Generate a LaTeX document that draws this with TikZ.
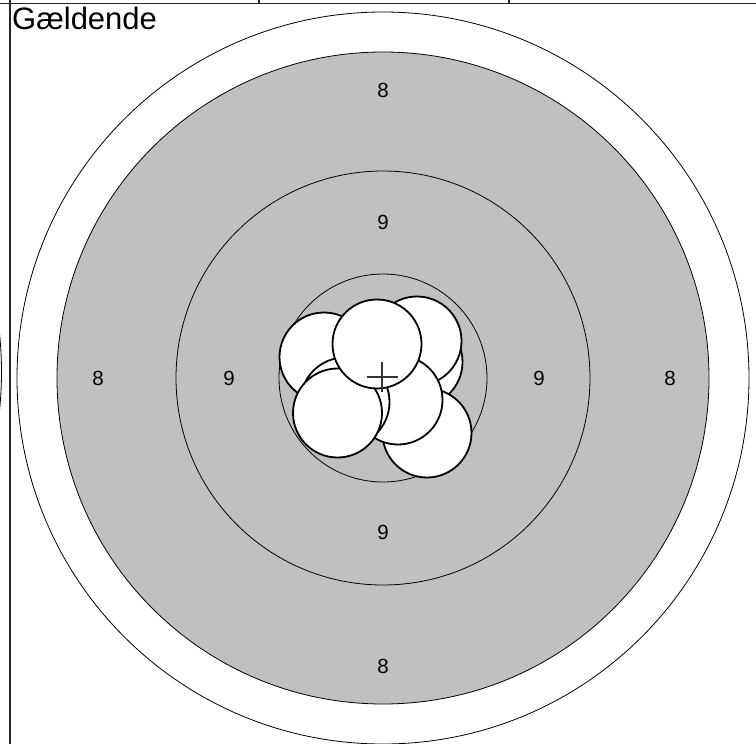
\documentclass[tikz,border=0pt]{standalone}
\usepackage{fontspec}
\setmainfont{Liberation Sans}
\usetikzlibrary{positioning}
\definecolor{ringgray}{RGB}{192,192,192}
\tikzset{
  ring/.style={draw=black,line width=0.8pt},
  frame/.style={draw=black!85,line width=1.6pt},
  shot/.style={circle,draw=black,fill=white,line width=1.8pt,minimum size=89pt,inner sep=0pt},
  score/.style={font=\fontsize{20.5}{20.5}\selectfont,inner sep=0pt},
}

\begin{document}
\begin{tikzpicture}[x=1pt,y=-1pt]
  \clip (0,0) rectangle (756,744);
  \coordinate (c) at (383,378);
  % target rings
  \draw[ring] (c) circle[radius=366];
  \draw[ring,fill=ringgray] (c) circle[radius=326];
  \draw[ring] (c) circle[radius=207];
  \draw[ring] (c) circle[radius=104];
  \draw[ring] (-364.5,372) circle[radius=366];
  % table lines
  \draw[frame] (0,3.5) -- (756,3.5);
  \draw[frame] (10,0) -- (10,744);
  \draw[frame] (259,0) -- (259,3.5);
  \draw[frame] (509,0) -- (509,3.5);
  \node[anchor=base west,inner sep=0pt,font=\fontsize{31}{31}\selectfont] (title) at (12,30) {Gældende};
  % scores
  \node[score] (e8n) at (383,90) {8};
  \node[score] (e8w) at (98,378) {8};
  \node[score] (e8e) at (670,378) {8};
  \node[score] (e8s) at (383,666) {8};
  \node[score] (n9n) at (383,222) {9};
  \node[score] (n9w) at (229,378) {9};
  \node[score] (n9e) at (539,378) {9};
  \node[score] (n9s) at (383,532) {9};
  % shots, back to front
  \node[shot] (sd) at (324,357) {};
  \node[shot] (sc) at (418,362) {};
  \node[shot] (sb) at (417,341) {};
  \node[shot] (sh) at (427,433) {};
  \node[shot] (sg) at (398,400) {};
  \node[shot] (se) at (345,402) {};
  \node[shot] (sf) at (337.5,413) {};
  \node[shot] (sa) at (377,344) {};
  % aim mark
  \draw[draw=black!80,line width=1.2pt] (367,377) -- (398,377) (382,362) -- (382,392);
\end{tikzpicture}
\end{document}
